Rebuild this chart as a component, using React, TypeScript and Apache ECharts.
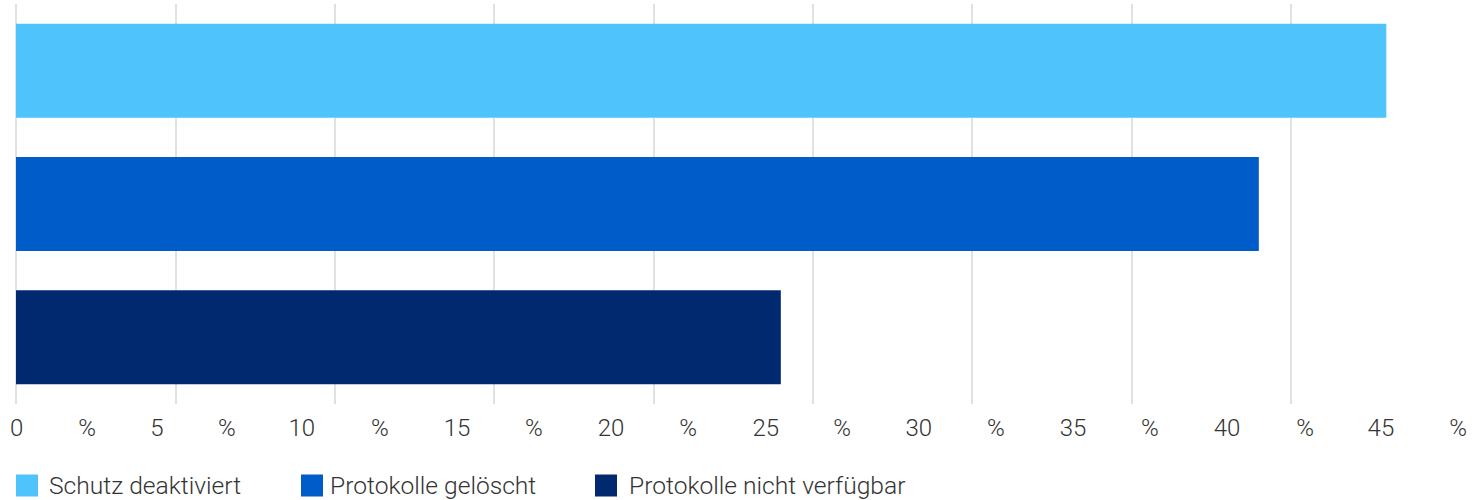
import React, { useEffect, useRef } from "react";
import * as echarts from "echarts";

const categories = ["Schutz deaktiviert", "Protokolle gelöscht", "Protokolle nicht verfügbar"];
const seriesValues = [43, 39, 24];
const seriesColors = ["#4FC3FB", "#005CC8", "#00296F"];
const xTickValues = [0, 5, 10, 15, 20, 25, 30, 35, 40, 45];
// The source shows its tick text as one justified line: "0 % 5 % 10 % ... 45 %"
const tickLabels = ["0", "%", "5", "%", "10", "%", "15", "%", "20", "%", "25", "%", "30", "%", "35", "%", "40", "%", "45", "%"];
const tickLabelValues = [0.02, 2.23, 4.42, 6.62, 8.97, 11.42, 13.84, 16.25, 18.67, 21.09, 23.53, 25.92, 28.33, 30.75, 33.17, 35.58, 38.0, 40.45, 42.83, 45.25];
const xMin = 0;
const xMax = 45.25;

const FONT = "Roboto, 'Noto Sans', sans-serif";

export default function App() {
  const ref = useRef<HTMLDivElement>(null);

  useEffect(() => {
    document.body.style.margin = "0";
    if (!ref.current) return;
    const chart = echarts.init(ref.current, undefined, { renderer: "svg" });

    const series = categories.map((name, i) => ({
      name,
      type: "bar",
      stack: "all",
      barWidth: 94,
      itemStyle: { color: seriesColors[i] },
      data: categories.map((_, j) => (j === i ? seriesValues[i] : null)),
    }));

    const legendLefts = [16, 301, 595];
    const legendTextPads = [6, 2, 7];
    const legends = categories.map((name, i) => ({
      data: [name],
      left: legendLefts[i],
      top: 473,
      padding: 0,
      itemWidth: 22,
      itemHeight: 22,
      icon: "rect",
      selectedMode: false,
      textStyle: {
        fontFamily: FONT,
        fontSize: 24.6,
        fontWeight: 300,
        color: "#333333",
        padding: [0, 0, 0, legendTextPads[i]],
      },
    }));

    chart.setOption({
      animation: false,
      textStyle: { fontFamily: FONT },
      grid: { left: 16, right: 14, top: 4, bottom: 96, containLabel: false },
      legend: legends,
      xAxis: {
        type: "value",
        min: xMin,
        max: xMax,
        interval: 5,
        axisLine: { show: false },
        axisTick: { show: false, customValues: xTickValues },
        splitLine: {
          show: true,
          showMaxLine: false,
          lineStyle: { color: "#d6d7dc", width: 1.5 },
        },
        axisLabel: {
          customValues: tickLabelValues,
          margin: 12,
          fontFamily: FONT,
          fontSize: 24,
          fontWeight: 300,
          color: "#333333",
          formatter: (v: number) => {
            let best = 0;
            let bd = Infinity;
            tickLabelValues.forEach((p, k) => {
              const d = Math.abs(p - v);
              if (d < bd) {
                bd = d;
                best = k;
              }
            });
            return tickLabels[best];
          },
        },
      },
      yAxis: {
        type: "category",
        inverse: true,
        data: categories,
        axisLine: { show: false },
        axisTick: { show: false },
        axisLabel: { show: false },
        splitLine: { show: false },
      },
      series,
    });

    return () => chart.dispose();
  }, []);

  return <div ref={ref} style={{ width: 1472, height: 500 }} />;
}
